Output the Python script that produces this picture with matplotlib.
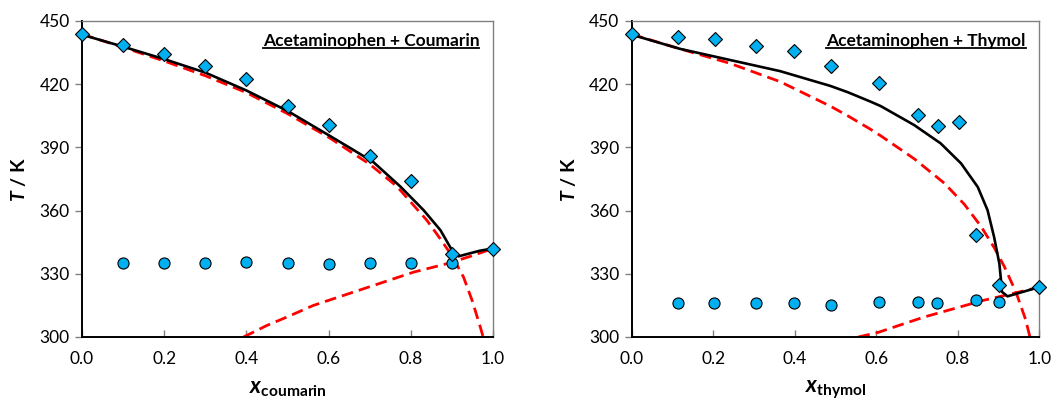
import matplotlib
matplotlib.use("Agg")
import matplotlib.pyplot as plt
from matplotlib.lines import Line2D

plt.rcParams['font.family'] = ['Lato', 'DejaVu Sans']
plt.rcParams['mathtext.fontset'] = 'custom'
plt.rcParams['mathtext.rm'] = 'Lato'
plt.rcParams['mathtext.bf'] = 'Lato:bold'
plt.rcParams['mathtext.it'] = 'Lato:italic:bold'

# ---- Acetaminophen + Coumarin ----
cou_liq_x = [0.0, 0.1, 0.2, 0.3, 0.4, 0.5, 0.6, 0.7, 0.8, 0.9, 1.0]
cou_liq_T = [443.7, 438.4, 434.3, 428.6, 422.6, 409.6, 400.6, 386.0, 374.0, 339.6, 342.0]
cou_sol_x = [0.1, 0.2, 0.3, 0.4, 0.5, 0.6, 0.7, 0.8, 0.9]
cou_sol_T = [335.0, 335.0, 335.0, 335.5, 335.0, 334.6, 335.0, 335.0, 335.0]
# model (solid black)
cou_model_x = [0.0, 0.1, 0.2, 0.3, 0.4, 0.5, 0.6, 0.661, 0.709, 0.774, 0.831, 0.872, 0.90,
               0.916, 0.969, 1.0]
cou_model_T = [443.5, 437.8, 431.9, 425.5, 417.0, 407.3, 395.8, 388.7, 383.0, 371.5, 360.2, 350.7,
               341.2, 338.3, 341.0, 342.0]
# ideal solubility (red dashed)
cou_ideal_a_x = [0.0, 0.1, 0.2, 0.3, 0.4, 0.5, 0.6, 0.7, 0.766, 0.80, 0.839, 0.872, 0.90, 0.928,
                 0.949, 0.969, 0.976]
cou_ideal_a_T = [443.7, 437.5, 431.0, 424.0, 416.0, 406.0, 394.8, 382.0, 371.5, 364.0, 355.4, 346.5,
                 338.5, 328.5, 317.4, 304.7, 300.0]
cou_ideal_b_x = [0.393, 0.45, 0.50, 0.563, 0.685, 0.807, 0.888, 0.945, 1.0]
cou_ideal_b_T = [300.0, 305.5, 309.6, 315.0, 322.9, 330.8, 334.8, 338.3, 342.0]

# ---- Acetaminophen + Thymol ----
thy_liq_x = [0.0, 0.114, 0.204, 0.304, 0.398, 0.489, 0.606, 0.702, 0.751, 0.804, 0.845, 0.900, 1.0]
thy_liq_T = [443.8, 442.5, 441.4, 438.3, 435.7, 428.6, 420.7, 405.2, 400.1, 402.1, 348.3, 324.5, 323.7]
thy_sol_x = [0.114, 0.202, 0.306, 0.399, 0.490, 0.606, 0.702, 0.750, 0.844, 0.900]
thy_sol_T = [316.1, 316.1, 316.1, 316.1, 315.3, 316.6, 316.4, 315.9, 317.5, 316.8]
thy_model_x = [0.0, 0.118, 0.241, 0.364, 0.487, 0.53, 0.585, 0.611, 0.693, 0.758, 0.808, 0.849,
               0.873, 0.889, 0.902, 0.906, 0.908, 0.922, 1.0]
thy_model_T = [443.5, 436.8, 431.5, 426.2, 419.2, 416.2, 411.8, 409.6, 400.6, 391.9, 382.4, 371.2,
               360.2, 347.5, 334.8, 326.9, 321.5, 319.3, 323.7]
thy_ideal_a_x = [0.0, 0.118, 0.241, 0.364, 0.487, 0.53, 0.585, 0.611, 0.693, 0.767, 0.816, 0.857,
                 0.889, 0.914, 0.934, 0.946, 0.966, 0.977]
thy_ideal_a_T = [443.7, 436.8, 429.9, 421.2, 409.6, 405.0, 398.7, 395.5, 384.6, 373.0, 363.0, 352.5,
                 342.5, 333.5, 325.0, 319.5, 308.5, 300.0]
thy_ideal_b_x = [0.556, 0.605, 0.716, 0.797, 0.863, 0.928, 1.0]
thy_ideal_b_T = [300.0, 302.2, 309.4, 313.8, 317.4, 320.3, 323.7]

panels = [
    dict(liq=(cou_liq_x, cou_liq_T), sol=(cou_sol_x, cou_sol_T), model=(cou_model_x, cou_model_T),
         ia=(cou_ideal_a_x, cou_ideal_a_T), ib=(cou_ideal_b_x, cou_ideal_b_T),
         title='Acetaminophen + Coumarin', sub='coumarin'),
    dict(liq=(thy_liq_x, thy_liq_T), sol=(thy_sol_x, thy_sol_T), model=(thy_model_x, thy_model_T),
         ia=(thy_ideal_a_x, thy_ideal_a_T), ib=(thy_ideal_b_x, thy_ideal_b_T),
         title='Acetaminophen + Thymol', sub='thymol'),
]

blue = '#00B0F0'
fig = plt.figure(figsize=(10.56, 4.03), dpi=100)
axes = [fig.add_axes([0.0777, 0.1638, 0.3892, 0.7841]),
        fig.add_axes([0.5982, 0.1638, 0.3860, 0.7841])]

titles = []
for ax, p in zip(axes, panels):
    ax.plot(*p['ia'], color='red', lw=2.0, dashes=(4.2, 2.2), zorder=2)
    ax.plot(*p['ib'], color='red', lw=2.0, dashes=(4.2, 2.2), zorder=2)
    ax.plot(*p['model'], color='black', lw=1.9, zorder=3, solid_joinstyle='round')
    ax.plot(*p['sol'], 'o', ms=8, mfc=blue, mec='black', mew=0.8, ls='none', zorder=4,
            clip_on=False)
    ax.plot(*p['liq'], 'D', ms=7.3, mfc=blue, mec='black', mew=0.8, ls='none', zorder=4,
            clip_on=False)

    ax.set_xlim(0, 1.0)
    ax.set_ylim(300, 450)
    ax.set_xticks([0.0, 0.2, 0.4, 0.6, 0.8, 1.0])
    ax.set_yticks([300, 330, 360, 390, 420, 450])
    ax.xaxis.set_major_formatter(plt.FormatStrFormatter('%.1f'))
    ax.tick_params(axis='x', direction='in', length=5, width=1, color='#808080',
                   labelsize=12.5, pad=10)
    ax.tick_params(axis='y', direction='out', length=5, width=1, color='#808080',
                   labelsize=12.5, pad=4)
    for s in ['left', 'bottom']:
        ax.spines[s].set_color('black')
        ax.spines[s].set_linewidth(1.4)
    for s in ['top', 'right']:
        ax.spines[s].set_color('#808080')
        ax.spines[s].set_linewidth(1.0)

    ax.set_ylabel(r'$\mathit{T}$ / K', fontsize=14, fontweight='bold', labelpad=8)
    ax.set_xlabel(r'x$_{\mathbf{' + p['sub'] + '}}$', fontsize=16, fontweight='bold',
                  fontstyle='italic', labelpad=8)

    t = ax.text(0.967, 0.92, p['title'], transform=ax.transAxes, ha='right', va='baseline',
                fontsize=12.5, fontweight='bold')
    titles.append((ax, t))

# underline the panel titles
fig.canvas.draw()
r = fig.canvas.get_renderer()
inv = fig.transFigure.inverted()
for ax, t in titles:
    bb = t.get_window_extent(renderer=r)
    (x0, y0), (x1, _) = inv.transform([(bb.x0, bb.y0 + 1), (bb.x1, bb.y0)])
    fig.add_artist(Line2D([x0, x1], [y0, y0], transform=fig.transFigure, color='black', lw=1.3))

fig.savefig('out.png', dpi=100)
